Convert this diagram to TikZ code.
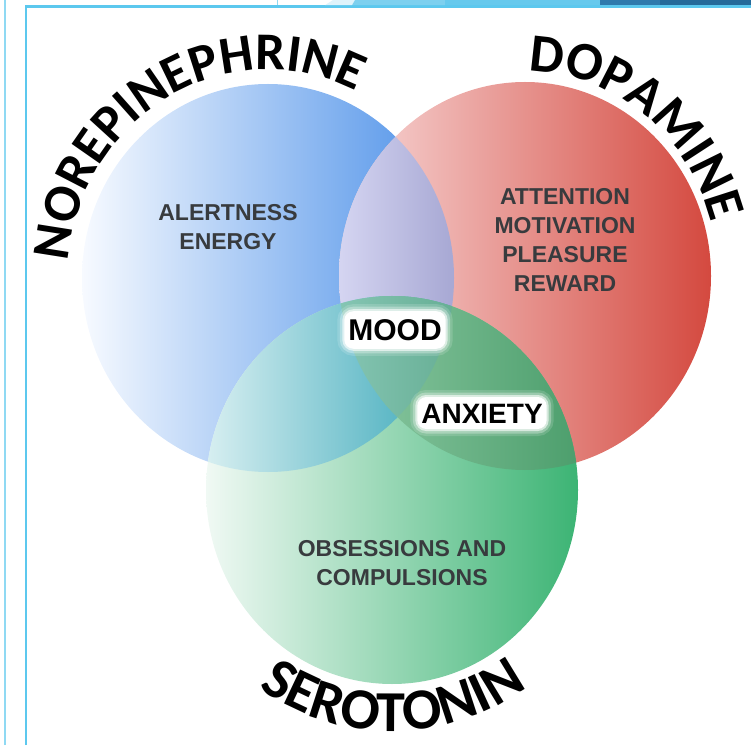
\documentclass[tikz,border=0pt]{standalone}
\usepackage{fontspec}
\setmainfont{Liberation Sans}
\newfontfamily\headfamily{Carlito}
\usepackage{tikz}
\usetikzlibrary{decorations.text}

\definecolor{norepileft}{HTML}{F7FAFF}
\definecolor{norepiright}{HTML}{4A8FE8}
\definecolor{dopaleft}{HTML}{F8DADA}
\definecolor{doparight}{HTML}{D4493F}
\definecolor{seroleft}{HTML}{F0F9F4}
\definecolor{seroright}{HTML}{3CB474}
\definecolor{lavleft}{HTML}{D6D6F2}
\definecolor{lavright}{HTML}{A6A7D3}
\definecolor{tealleft}{HTML}{D8EFF1}
\definecolor{tealright}{HTML}{33A5B7}
\definecolor{mossleft}{HTML}{82C29A}
\definecolor{mossright}{HTML}{4C9E6C}
\definecolor{tripleleft}{HTML}{86C6B4}
\definecolor{tripleright}{HTML}{66AE94}
\definecolor{catgray}{HTML}{383B3E}
\definecolor{framelight}{HTML}{8FD9F3}
\definecolor{framemid}{HTML}{5CC8EE}
\definecolor{stripa}{HTML}{DFF3FB}
\definecolor{stripb}{HTML}{7DD0EF}
\definecolor{stripc}{HTML}{66C9ED}
\definecolor{stripd}{HTML}{2F7AAD}
\definecolor{stripe}{HTML}{256A9A}

\begin{document}
\begin{tikzpicture}[x=1pt, y=1pt, style={
  blob/.style={
    x radius=186pt,
    y radius=194pt,
  },
  catstyle/.style={
    align=center,
    text=catgray,
    font=\fontsize{23}{29}\selectfont\bfseries,
  },
  glowstyle/.style={
    fill=white,
    rounded corners=9pt,
    text=black,
    text depth=0pt,
    preaction={draw=white, line width=14pt, opacity=0.15},
    preaction={draw=white, line width=9pt, opacity=0.3},
    preaction={draw=white, line width=4pt, opacity=0.6},
  },
  headstyle/.style n args={2}{
    decorate,
    decoration={
      text along path,
      text align=center,
      text={|\headfamily\fontsize{#1}{#1}\selectfont\bfseries|#2},
    },
  },
}]
\useasboundingbox (0,0) rectangle (751,745);

\coordinate (norepi) at (268,467);
\coordinate (dopa) at (525,469);
\coordinate (sero) at (392,255);

% the three circles
\shade[left color=norepileft, right color=norepiright] (norepi) ellipse[blob];
\shade[left color=dopaleft, right color=doparight] (dopa) ellipse[blob];
\shade[left color=seroleft, right color=seroright] (sero) ellipse[blob];

% overlaps
\begin{scope}
  \clip (norepi) ellipse[blob];
  \clip (dopa) ellipse[blob];
  \shade[left color=lavleft, right color=lavright] (336,0) rectangle (456,745);
\end{scope}
\begin{scope}
  \clip (norepi) ellipse[blob];
  \clip (sero) ellipse[blob];
  \shade[left color=tealleft, right color=tealright] (205,0) rectangle (460,745);
\end{scope}
\begin{scope}
  \clip (dopa) ellipse[blob];
  \clip (sero) ellipse[blob];
  \shade[left color=mossleft, right color=mossright] (380,0) rectangle (580,745);
\end{scope}
\begin{scope}
  \clip (norepi) ellipse[blob];
  \clip (dopa) ellipse[blob];
  \clip (sero) ellipse[blob];
  \shade[left color=tripleleft, right color=tripleright] (336,0) rectangle (456,745);
\end{scope}

% slide frame
\draw[framelight, line width=2pt] (5,0) -- (5,745);
\draw[framemid, line width=2.5pt] (26,0) -- (26,738.5) -- (751,738.5);
\fill[stripa] (325,739.8) -- (333,745) -- (355,745) -- (352,739.8) -- cycle;
\fill[stripb] (352,739.8) -- (355,745) -- (445,745) -- (445,739.8) -- cycle;
\fill[stripc] (445,739.8) rectangle (600,745);
\fill[stripd] (600,739.8) rectangle (660,745);
\fill[stripe] (660,739.8) rectangle (751,745);
\draw[framelight, line width=1pt] (277,739.8) -- (277,745);

% names round the circles
\path[headstyle={53pt}{NOREPINEPHRINE}]
  (norepi) ++(189.4:200 and 208)
  arc[start angle=189.4, end angle=49.4, x radius=200pt, y radius=208pt];
\path[headstyle={54pt}{DOPAMINE}]
  (dopa) ++(123:193 and 205)
  arc[start angle=123, end angle=-17, x radius=193pt, y radius=205pt];
\path[headstyle={58pt}{SEROTONIN}]
  (sero) ++(200.25:234 and 241)
  arc[start angle=200.25, end angle=340.25, x radius=234pt, y radius=241pt];

\draw[]
  node[catstyle] (alert) at (228,518) {ALERTNESS\\ENERGY}
  node[catstyle] (attn) at (565,505) {ATTENTION\\MOTIVATION\\PLEASURE\\REWARD}
  node[catstyle] (obsess) at (402,182) {OBSESSIONS AND\\COMPULSIONS}
;
\draw[]
  node[glowstyle, font=\fontsize{30}{30}\selectfont\bfseries,
    text height=21.5pt, inner xsep=4pt, inner ysep=8pt]
  (mood) at (395,415) {MOOD}
  node[glowstyle, font=\fontsize{28}{28}\selectfont\bfseries,
    text height=20pt, inner xsep=4pt, inner ysep=6pt]
  (anxiety) at (482,332) {ANXIETY}
;
\end{tikzpicture}
\end{document}
